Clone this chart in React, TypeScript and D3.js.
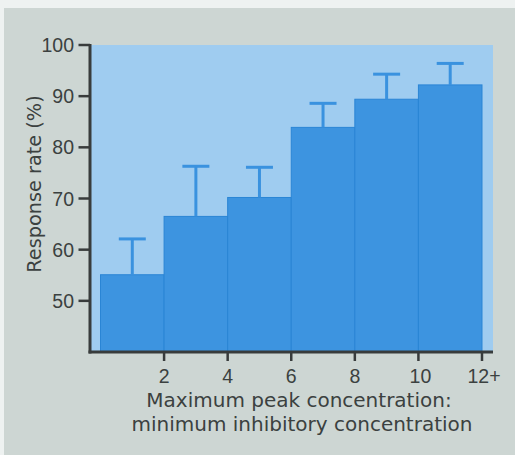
import React from "react";
import * as d3 from "d3";

const binStarts = [0, 2, 4, 6, 8, 10];
const binEnds = [2, 4, 6, 8, 10, 12];
const responseRates = [55.1, 66.5, 70.2, 83.9, 89.4, 92.2];
const errorUpper = [62.1, 76.3, 76.1, 88.6, 94.3, 96.4];
const yTicks = [50, 60, 70, 80, 90, 100];
const xTicks = [2, 4, 6, 8, 10, 12];
const xTickLabels = ["2", "4", "6", "8", "10", "12+"];

const W = 515;
const H = 455;

export default function App() {
  const x = d3.scaleLinear().domain([0, 12]).range([100.5, 482]);
  const y = d3.scaleLinear().domain([40, 100]).range([352, 45]);
  const axisColor = "#383c3c";
  const textColor = "#3b4140";
  const tickFont = "'Liberation Sans', Arial, sans-serif";
  const titleFont = "'DejaVu Sans', Verdana, sans-serif";
  const axisX = 90;
  const plotRight = 493;
  const capW = 27;

  return (
    <svg
      width={W}
      height={H}
      style={{ position: "absolute", left: 0, top: 0, display: "block" }}
    >
      <rect x={0} y={0} width={W} height={H} fill="#eef2f1" />
      <rect x={4} y={8} width={W - 4} height={H - 8} fill="#cdd6d3" />
      <rect
        x={axisX}
        y={y(100)}
        width={plotRight - axisX}
        height={y(40) - y(100)}
        fill="#9fccf0"
      />
      {responseRates.map((v, i) => (
        <rect
          key={"b" + i}
          x={x(binStarts[i])}
          y={y(v)}
          width={x(binEnds[i]) - x(binStarts[i])}
          height={y(40) - y(v)}
          fill="#3d94e0"
          stroke="#2a85d5"
          strokeWidth={1}
        />
      ))}
      {errorUpper.map((e, i) => {
        const cx = (x(binStarts[i]) + x(binEnds[i])) / 2;
        return (
          <g key={"e" + i} stroke="#3a92df" strokeWidth={3}>
            <line x1={cx} x2={cx} y1={y(responseRates[i])} y2={y(e)} />
            <line x1={cx - capW / 2} x2={cx + capW / 2} y1={y(e)} y2={y(e)} />
          </g>
        );
      })}
      {/* y axis */}
      <line x1={axisX} x2={axisX} y1={y(100) - 1} y2={y(40) + 1.5} stroke={axisColor} strokeWidth={3} />
      {yTicks.map((t) => (
        <g key={"yt" + t}>
          <line x1={78.5} x2={axisX} y1={y(t)} y2={y(t)} stroke={axisColor} strokeWidth={2.5} />
          <text
            x={74}
            y={y(t)}
            dy="0.36em"
            textAnchor="end"
            fontFamily={tickFont}
            fontSize={19.5}
            fill={textColor}
          >
            {t}
          </text>
        </g>
      ))}
      {/* x axis */}
      <line x1={axisX - 1.5} x2={plotRight} y1={y(40)} y2={y(40)} stroke={axisColor} strokeWidth={3} />
      {xTicks.map((t, i) => (
        <g key={"xt" + t}>
          <line x1={x(t)} x2={x(t)} y1={y(40)} y2={y(40) + 9} stroke={axisColor} strokeWidth={2.5} />
          <text
            x={x(t) + (i === xTicks.length - 1 ? 2 : i === xTicks.length - 2 ? 2 : 0)}
            y={383}
            textAnchor="middle"
            fontFamily={tickFont}
            fontSize={19.5}
            fill={textColor}
          >
            {xTickLabels[i]}
          </text>
        </g>
      ))}
      <text
        x={299}
        y={407}
        textAnchor="middle"
        fontFamily={titleFont}
        fontSize={20}
        fill={textColor}
      >
        Maximum peak concentration:
      </text>
      <text
        x={302}
        y={431}
        textAnchor="middle"
        fontFamily={titleFont}
        fontSize={20}
        fill={textColor}
      >
        minimum inhibitory concentration
      </text>
      <text
        transform={`translate(41, 184) rotate(-90)`}
        textAnchor="middle"
        fontFamily={titleFont}
        fontSize={19.3}
        fill={textColor}
      >
        Response rate (%)
      </text>
    </svg>
  );
}
